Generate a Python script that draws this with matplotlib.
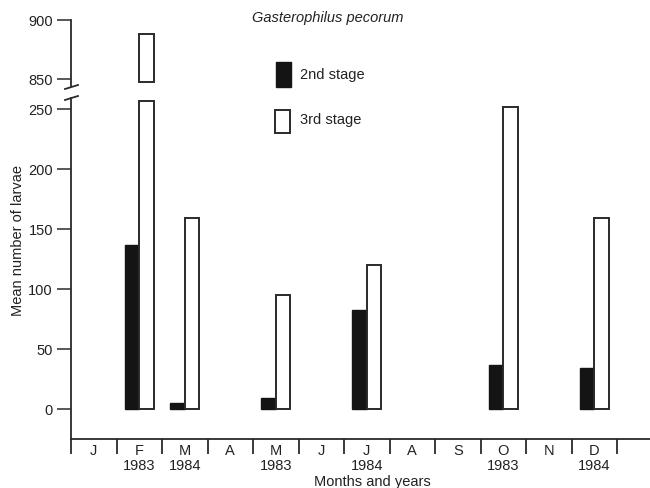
import matplotlib
matplotlib.use('Agg')
import matplotlib.pyplot as plt
from matplotlib.patches import Rectangle
from matplotlib.lines import Line2D

# ---- data ----
months = ['J', 'F', 'M', 'A', 'M', 'J', 'J', 'A', 'S', 'O', 'N', 'D']
years = ['', '1983', '1984', '', '1983', '', '1984', '', '', '1983', '', '1984']
sampled_month_idx = [1, 2, 4, 6, 9, 11]
stage2 = [137, 5, 9, 83, 37, 34]
stage3 = [888, 159, 95, 120, 252, 159]
yticks_low = [0, 50, 100, 150, 200, 250]
yticks_high = [850, 900]

# ---- layout helpers ----
W, H = 650, 488
def fx(px):
    return px / W
def fy(py):
    return 1 - py / H

plt.rcParams['font.family'] = ['Liberation Sans', 'DejaVu Sans']
TXT = '#222222'
LINE = '#2a2a2a'
FS = 10.5

fig = plt.figure(figsize=(6.5, 4.88), dpi=100)
fig.patch.set_facecolor('white')

LOW_TOP = 259.4
LOW_CAP = 257
HIGH_BOT = 848
XMAX = (650 - 71) / 45.5
BW = 0.32

ax = fig.add_axes([fx(71), fy(439.3), 1 - fx(71), (439.3 - 98) / H])
axt = fig.add_axes([fx(71), fy(86), 1 - fx(71), (86 - 20) / H])

for a in (ax, axt):
    a.set_xlim(0, XMAX)
    a.set_facecolor('none')
    for s in ('top', 'right'):
        a.spines[s].set_visible(False)
    a.spines['left'].set_color(LINE)
    a.spines['left'].set_linewidth(1.3)

ax.set_ylim(-25, LOW_TOP)
axt.set_ylim(844.4, 900)
axt.spines['bottom'].set_visible(False)
ax.spines['bottom'].set_color(LINE)
ax.spines['bottom'].set_linewidth(1.3)

dark = '#141414'
for i, v2, v3 in zip(sampled_month_idx, stage2, stage3):
    c = i + 0.5
    ax.bar(c - BW, v2, width=BW, align='edge', color=dark, edgecolor=dark, linewidth=1.0)
    ax.bar(c, min(v3, LOW_CAP), width=BW, align='edge', color='white', edgecolor=LINE, linewidth=1.4)
    if v3 > LOW_TOP:
        axt.bar(c, v3 - HIGH_BOT, bottom=HIGH_BOT, width=BW, align='edge',
                color='white', edgecolor=LINE, linewidth=1.4)

# y ticks
ax.set_yticks(yticks_low)
ax.set_yticklabels([str(t) for t in yticks_low], fontsize=FS, color=TXT)
axt.set_yticks(yticks_high)
axt.set_yticklabels([str(t) for t in yticks_high], fontsize=FS, color=TXT)
for a in (ax, axt):
    a.tick_params(axis='y', direction='out', length=10, width=1.1, pad=3, color=LINE)
axt.set_xticks([])

# x ticks: month boundaries (major) and month labels (minor)
ax.set_xticks(range(0, 13))
ax.set_xticklabels([])
ax.tick_params(axis='x', which='major', direction='out', length=11, width=1.3, color=LINE)
ax.set_xticks([i + 0.5 for i in range(12)], minor=True)
labels = [m if y == '' else m + '\n' + y for m, y in zip(months, years)]
ax.set_xticklabels(labels, minor=True, fontsize=FS, color=TXT, linespacing=1.05)
ax.tick_params(axis='x', which='minor', length=0, pad=3.5)

# axis break marks
for y0, y1 in [(89, 85), (100, 96)]:
    fig.add_artist(Line2D([fx(65), fx(78)], [fy(y0), fy(y1)], transform=fig.transFigure,
                          color=LINE, linewidth=1.3))

# legend
fig.add_artist(Rectangle((fx(276), fy(87)), 15 / W, 25 / H, transform=fig.transFigure,
                         facecolor=dark, edgecolor=dark, linewidth=1.0))
fig.add_artist(Rectangle((fx(275), fy(133)), 15 / W, 23 / H, transform=fig.transFigure,
                         facecolor='white', edgecolor=LINE, linewidth=1.4))
fig.text(fx(300), fy(75), '2nd stage', fontsize=FS, color=TXT, va='center', ha='left')
fig.text(fx(300), fy(120), '3rd stage', fontsize=FS, color=TXT, va='center', ha='left')

# titles / labels
fig.text(fx(328), fy(18), 'Gasterophilus pecorum', fontsize=FS, style='italic',
         color=TXT, ha='center', va='center')
fig.text(fx(18), fy(241), 'Mean number of larvae', fontsize=FS, color=TXT,
         rotation=90, ha='center', va='center')
fig.text(fx(372), fy(482), 'Months and years', fontsize=FS, color=TXT,
         ha='center', va='center')

fig.savefig('out.png', dpi=100, facecolor='white')
